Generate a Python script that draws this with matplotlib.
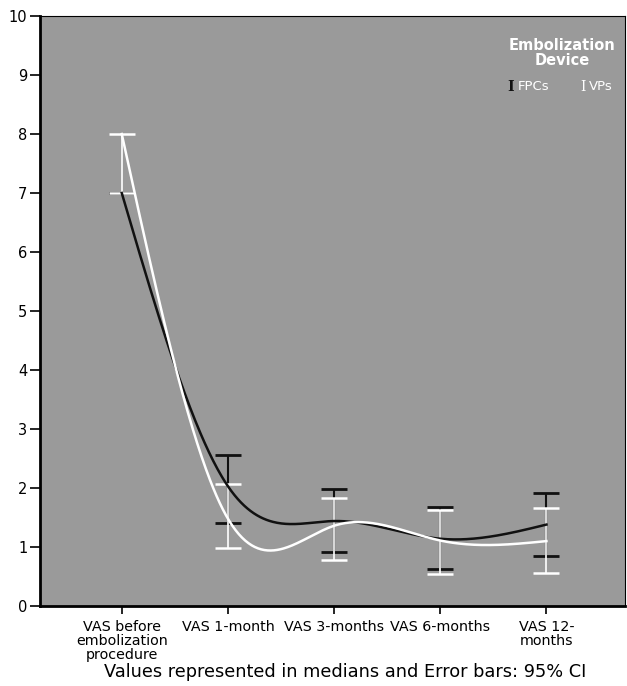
import numpy as np
import matplotlib.pyplot as plt

categories = ["VAS before\nembolization\nprocedure", "VAS 1-month", "VAS 3-months",
              "VAS 6-months", "VAS 12-\nmonths"]

# medians and 95% CI bounds
fpc_median = [7.0, 2.03, 1.44, 1.14, 1.38]
fpc_low = [7.0, 1.41, 0.91, 0.63, 0.85]
fpc_high = [7.0, 2.56, 1.99, 1.67, 1.92]

vp_median = [8.0, 1.48, 1.36, 1.11, 1.10]
vp_low = [7.0, 0.99, 0.78, 0.55, 0.56]
vp_high = [8.0, 2.06, 1.83, 1.63, 1.66]


def natural_spline(x, y, xs):
    x = np.asarray(x, float)
    y = np.asarray(y, float)
    n = len(x)
    h = np.diff(x)
    A = np.zeros((n, n))
    b = np.zeros(n)
    A[0, 0] = A[-1, -1] = 1
    for i in range(1, n - 1):
        A[i, i - 1] = h[i - 1]
        A[i, i] = 2 * (h[i - 1] + h[i])
        A[i, i + 1] = h[i]
        b[i] = 6 * ((y[i + 1] - y[i]) / h[i] - (y[i] - y[i - 1]) / h[i - 1])
    M = np.linalg.solve(A, b)
    out = np.empty_like(xs)
    for k, t in enumerate(xs):
        i = min(max(np.searchsorted(x, t) - 1, 0), n - 2)
        a, c = x[i], x[i + 1]
        out[k] = (M[i] * (c - t) ** 3 / (6 * h[i]) + M[i + 1] * (t - a) ** 3 / (6 * h[i])
                  + (y[i] / h[i] - M[i] * h[i] / 6) * (c - t)
                  + (y[i + 1] / h[i] - M[i + 1] * h[i] / 6) * (t - a))
    return out


xpos = np.arange(len(categories))
xs = np.linspace(0, len(categories) - 1, 400)

fig = plt.figure(figsize=(6.27, 6.86), dpi=100)
ax = fig.add_axes([40 / 627, 80 / 686, 585 / 627, 590 / 686])
ax.set_facecolor("#9a9a9a")

# error bars
fpc_m = np.array(fpc_median)
vp_m = np.array(vp_median)
ax.errorbar(xpos, fpc_m, yerr=[fpc_m - np.array(fpc_low), np.array(fpc_high) - fpc_m],
            fmt="none", ecolor="#111111", elinewidth=1.5, capsize=9.7, capthick=2, zorder=2)
ax.errorbar(xpos, vp_m, yerr=[vp_m - np.array(vp_low), np.array(vp_high) - vp_m],
            fmt="none", ecolor="white", elinewidth=1.2, capsize=9.7, capthick=1.8, zorder=3)

# smooth median lines
ax.plot(xs, natural_spline(xpos, fpc_median, xs), color="#111111", lw=1.8, zorder=4)
ax.plot(xs, natural_spline(xpos, vp_median, xs), color="white", lw=1.8, zorder=5)

ax.set_xlim(-0.77, 4.74)
ax.set_ylim(0, 10)
ax.set_yticks(range(0, 11))
ax.set_xticks(xpos)
ax.set_xticklabels(categories, fontsize=10.3, linespacing=1.0)
ax.tick_params(axis="y", direction="out", length=7, width=1.2, labelsize=10.5, pad=2)
ax.tick_params(axis="x", direction="out", length=6, width=1.2, pad=4)

for s in ["left", "bottom"]:
    ax.spines[s].set_linewidth(2)
ax.spines["top"].set_linewidth(0.8)
ax.spines["right"].set_linewidth(0.8)

fig.text(345 / 627, 1 - 672 / 686, "Values represented in medians and Error bars: 95% CI",
         ha="center", va="center", fontsize=12.8)

# legend drawn as text
ax.text(0.892, 0.962, "Embolization\nDevice", transform=ax.transAxes, ha="center", va="top",
        color="white", fontsize=10.5, fontweight="bold", linespacing=1.0)
ax.text(0.805, 0.88, "I", transform=ax.transAxes, ha="center", va="center",
        color="#111111", fontsize=10, family="DejaVu Serif", fontweight="bold")
ax.text(0.817, 0.88, "FPCs", transform=ax.transAxes, ha="left", va="center",
        color="white", fontsize=9.5)
ax.text(0.928, 0.88, "I", transform=ax.transAxes, ha="center", va="center",
        color="white", fontsize=10, family="DejaVu Serif")
ax.text(0.938, 0.88, "VPs", transform=ax.transAxes, ha="left", va="center",
        color="white", fontsize=9.5)

fig.savefig("out.png", dpi=100)
